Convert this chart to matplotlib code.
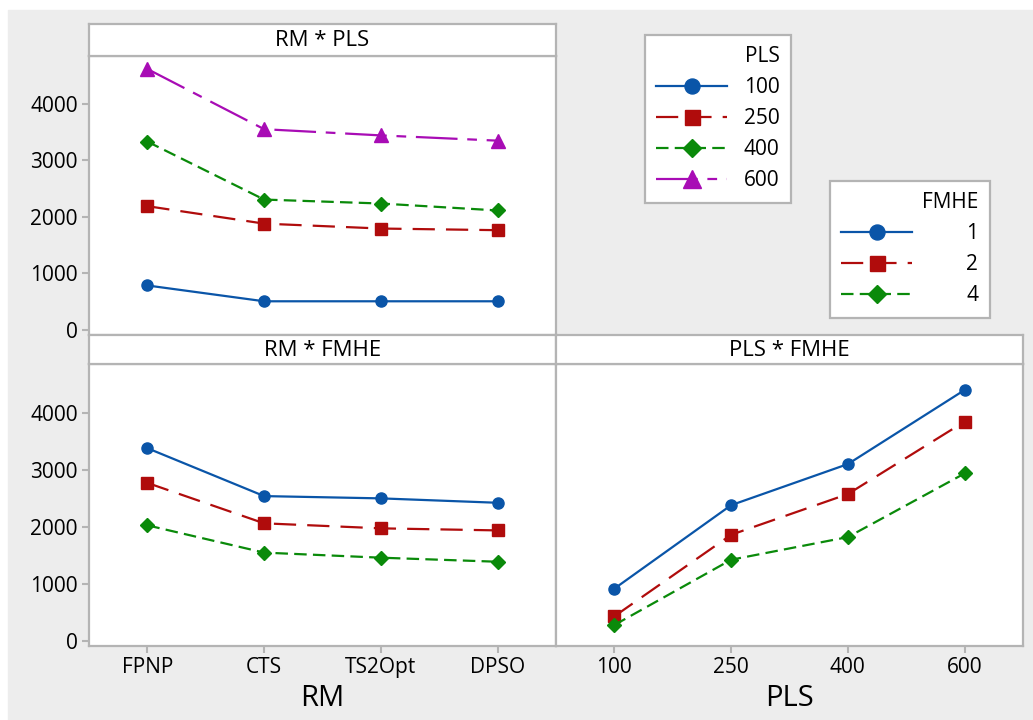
import matplotlib.pyplot as plt
from matplotlib.patches import Rectangle

plt.rcParams['font.family'] = ['Open Sans', 'DejaVu Sans']
plt.rcParams['lines.scale_dashes'] = False

# data
rm_levels = ['FPNP', 'CTS', 'TS2Opt', 'DPSO']
pls_levels = ['100', '250', '400', '600']
fmhe_levels = ['1', '2', '4']

rm_pls = {
    '100': [787, 507, 507, 507],
    '250': [2191, 1882, 1795, 1766],
    '400': [3334, 2308, 2238, 2115],
    '600': [4620, 3554, 3444, 3351],
}
rm_fmhe = {
    '1': [3375, 2536, 2496, 2419],
    '2': [2767, 2059, 1971, 1935],
    '4': [2024, 1546, 1457, 1386],
}
pls_fmhe = {
    '1': [915, 2377, 3097, 4395],
    '2': [430, 1858, 2572, 3841],
    '4': [278, 1421, 1818, 2933],
}

blue = '#0A55A8'
red = '#B00C0C'
green = '#0A8A0A'
purple = '#A80CB5'
frame = '#B4B4B4'
bg = '#EDEDED'

pls_style = {
    '100': dict(color=blue, marker='o', ms=8, ls='-'),
    '250': dict(color=red, marker='s', ms=8, ls=(0, (16, 8))),
    '400': dict(color=green, marker='D', ms=7, ls=(0, (9, 4.5))),
    '600': dict(color=purple, marker='^', ms=10, ls=(0, (30, 7, 7, 7))),
}
fmhe_style = {
    '1': pls_style['100'],
    '2': pls_style['250'],
    '4': pls_style['400'],
}

W, H = 1033, 720
fig = plt.figure(figsize=(W / 100, H / 100), dpi=100, facecolor='white')
fig.patches.append(Rectangle((8 / W, 0), 1 - 8 / W, 1 - 10 / H,
                             transform=fig.transFigure, color=bg, zorder=-10))


def rect(x0, y0, x1, y1):
    return [x0 / W, 1 - y1 / H, (x1 - x0) / W, (y1 - y0) / H]


def style_frame(ax):
    for s in ax.spines.values():
        s.set_color(frame)
        s.set_linewidth(1.6)


def strip(x0, y0, x1, y1, title):
    s = fig.add_axes(rect(x0, y0, x1, y1))
    s.set_xticks([])
    s.set_yticks([])
    style_frame(s)
    s.text(0.5, 0.47, title, ha='center', va='center', fontsize=16,
           transform=s.transAxes)


def panel(x0, y0, x1, y1):
    ax = fig.add_axes(rect(x0, y0, x1, y1))
    ax.set_xlim(-0.5, 3.5)
    ax.set_ylim(-90, 4850)
    style_frame(ax)
    ax.tick_params(colors=frame, labelcolor='black', labelsize=15,
                   length=5, width=1.5, pad=3)
    return ax


ax_tl = panel(89, 56, 556, 335)
ax_bl = panel(89, 364, 556, 646)
ax_br = panel(556, 364, 1023, 646)
strip(89, 24, 556, 56, 'RM * PLS')
strip(89, 335, 556, 364, 'RM * FMHE')
strip(556, 335, 1023, 364, 'PLS * FMHE')

yt = [0, 1000, 2000, 3000, 4000]
for ax in (ax_tl, ax_bl):
    ax.set_yticks(yt)
ax_br.set_yticks([])
ax_tl.set_xticks([])
ax_bl.set_xticks(range(len(rm_levels)))
ax_bl.set_xticklabels(rm_levels)
ax_br.set_xticks(range(len(pls_levels)))
ax_br.set_xticklabels(pls_levels)

x = range(4)
pls_handles = []
for lvl in pls_levels:
    h, = ax_tl.plot(x, rm_pls[lvl], lw=1.6, label=lvl, **pls_style[lvl])
    pls_handles.append(h)
fmhe_handles = []
for lvl in fmhe_levels:
    h, = ax_bl.plot(x, rm_fmhe[lvl], lw=1.6, label=lvl, **fmhe_style[lvl])
    ax_br.plot(x, pls_fmhe[lvl], lw=1.6, **fmhe_style[lvl])
    fmhe_handles.append(h)

ax_bl.set_xlabel('RM', fontsize=21, labelpad=4)
ax_br.set_xlabel('PLS', fontsize=21, labelpad=4)

leg_kw = dict(loc='upper left', fontsize=15, title_fontsize=15,
              frameon=True, fancybox=False, edgecolor=frame, framealpha=1,
              borderpad=0.55, labelspacing=0.48, handlelength=3.4,
              markerscale=1.35, alignment='right', borderaxespad=0)
leg1 = fig.legend(handles=pls_handles, title='PLS', handletextpad=0.8,
                  bbox_to_anchor=(645 / W, 1 - 35 / H), **leg_kw)
leg2 = fig.legend(handles=fmhe_handles, title='FMHE', handletextpad=2.6,
                  bbox_to_anchor=(830 / W, 1 - 181 / H), **leg_kw)
for lg in (leg1, leg2):
    lg.get_frame().set_linewidth(1.6)

fig.savefig('out.png', dpi=100, facecolor=fig.get_facecolor())
